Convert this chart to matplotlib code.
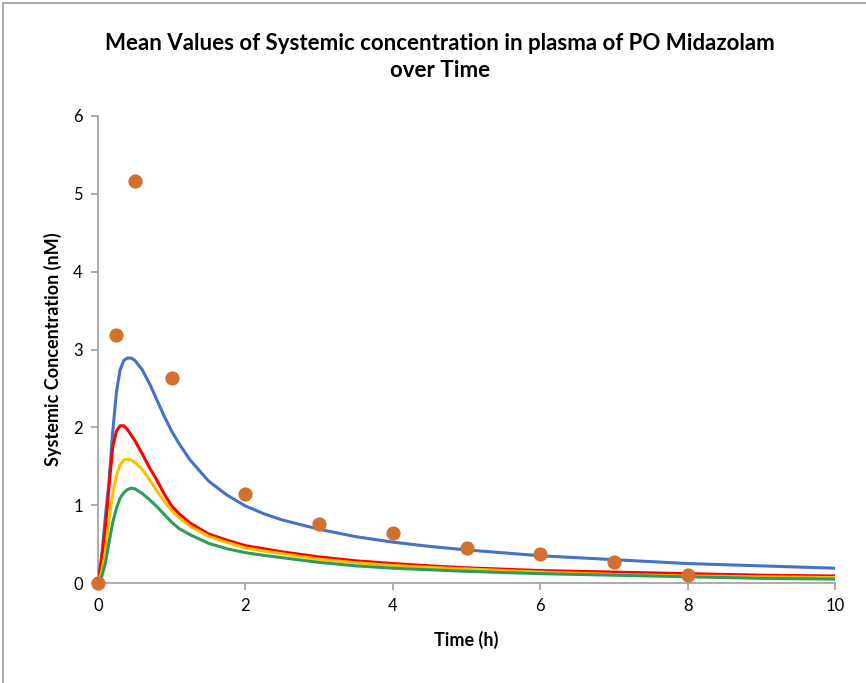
import matplotlib
matplotlib.use("Agg")
import matplotlib.pyplot as plt
from matplotlib.patches import Rectangle

# Observed data (orange points)
obs_time = [0, 0.25, 0.5, 1, 2, 3, 4, 5, 6, 7, 8]
obs_conc = [0, 3.19, 5.17, 2.63, 1.14, 0.76, 0.64, 0.45, 0.37, 0.27, 0.10]

# Simulated curves
sim_time = [0, 0.05, 0.1, 0.15, 0.2, 0.25, 0.3, 0.35, 0.4, 0.45, 0.5, 0.6, 0.7, 0.8, 0.9,
            1.0, 1.1, 1.25, 1.5, 1.75, 2.0, 2.25, 2.5, 3, 3.5, 4, 4.5, 5, 6, 7, 8, 9, 10]
blue = [0, 0.35, 0.85, 1.30, 1.95, 2.45, 2.74, 2.86, 2.89, 2.89, 2.86, 2.74, 2.56, 2.35, 2.14,
        1.95, 1.79, 1.58, 1.31, 1.13, 0.99, 0.89, 0.81, 0.69, 0.595, 0.525, 0.47, 0.425, 0.35,
        0.30, 0.25, 0.22, 0.19]
red = [0, 0.30, 0.70, 1.25, 1.75, 1.95, 2.02, 2.02, 1.97, 1.90, 1.83, 1.66, 1.48, 1.32, 1.14,
       0.99, 0.89, 0.77, 0.63, 0.55, 0.48, 0.44, 0.40, 0.335, 0.285, 0.25, 0.22, 0.195, 0.16,
       0.14, 0.12, 0.10, 0.09]
yellow = [0, 0.15, 0.40, 0.82, 1.15, 1.38, 1.52, 1.58, 1.59, 1.58, 1.55, 1.46, 1.33, 1.18, 1.05,
          0.93, 0.84, 0.73, 0.60, 0.52, 0.45, 0.41, 0.375, 0.305, 0.26, 0.225, 0.20, 0.18, 0.14,
          0.11, 0.09, 0.08, 0.07]
green = [0, 0.08, 0.25, 0.52, 0.78, 0.96, 1.09, 1.16, 1.20, 1.22, 1.21, 1.15, 1.07, 0.98, 0.88,
         0.78, 0.70, 0.62, 0.51, 0.44, 0.39, 0.355, 0.325, 0.265, 0.22, 0.19, 0.17, 0.15, 0.12,
         0.10, 0.08, 0.06, 0.05]

x_ticks = [0, 2, 4, 6, 8, 10]
y_ticks = [0, 1, 2, 3, 4, 5, 6]

plt.rcParams['font.family'] = ['Lato', 'DejaVu Sans']

fig = plt.figure(figsize=(8.66, 6.83), dpi=100)
ax = fig.add_axes([98/866, 1-583/683, (835-98)/866, (583-116)/683])

lw = 2.2
for ys, c in [(blue, '#4472C4'), (red, '#FF0000'), (yellow, '#FFC000'), (green, '#2E9B5E')]:
    ax.plot(sim_time, ys, color=c, lw=lw, zorder=3, solid_joinstyle='round')
ax.scatter(obs_time, obs_conc, s=105, color='#D2702E', zorder=5, clip_on=False, linewidths=0)

ax.set_xlim(0, 10)
ax.set_ylim(0, 6)
ax.set_xticks(x_ticks)
ax.set_yticks(y_ticks)
for s in ['top', 'right']:
    ax.spines[s].set_visible(False)
for s in ['left', 'bottom']:
    ax.spines[s].set_color('#A6A6A6')
    ax.spines[s].set_linewidth(1.3)
ax.tick_params(axis='both', colors='#A6A6A6', length=5, width=1.3, labelcolor='#000000',
               labelsize=12, pad=6)

ax.set_xlabel('Time (h)', fontsize=13, fontweight='bold', labelpad=12)
ax.set_ylabel('Systemic Concentration (nM)', fontsize=13, fontweight='bold', labelpad=8)

fig.text(440/866, 1-57/683, 'Mean Values of Systemic concentration in plasma of PO Midazolam\nover Time',
         ha='center', va='center', fontsize=16, fontweight='bold', linespacing=1.4)

fig.patches.append(Rectangle((3/866, -0.01), 1.02, 1-3/683+0.01, transform=fig.transFigure,
                             fill=False, edgecolor='#A6A6A6', lw=1.3, zorder=0))

fig.savefig('out.png', dpi=100)
